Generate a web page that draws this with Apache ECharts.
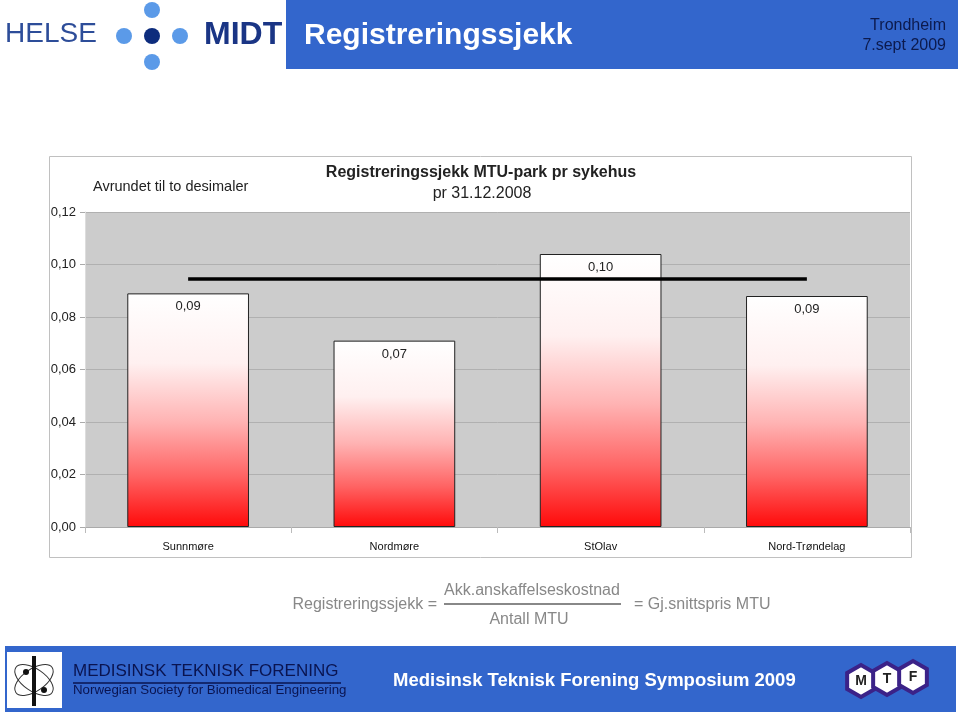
<!DOCTYPE html>
<html>
<head>
<meta charset="utf-8">
<script src="https://cdn.jsdelivr.net/npm/echarts@6/dist/echarts.min.js"></script>
<style>
html,body{margin:0;padding:0;background:#fff;}
#main{width:960px;height:716px;}
</style>
</head>
<body>
<div id="main"></div>
<script>
// ---- data ----
var categories = ['Sunnmøre', 'Nordmøre', 'StOlav', 'Nord-Trøndelag'];
var barValues = [0.089, 0.071, 0.104, 0.088];
var averageValues = [0.0945, 0.0945, 0.0945, 0.0945];
var yTicks = [0, 0.02, 0.04, 0.06, 0.08, 0.10, 0.12];

function fmt(v){ return v.toFixed(2).replace('.', ','); }

var chart = echarts.init(document.getElementById('main'), null, {renderer:'canvas'});
var F = 'Liberation Sans, Arial, sans-serif';
var blue = '#3366cc';

function hex(cx, cy, r){
  var pts=[];
  for(var i=0;i<6;i++){var a=Math.PI/6+i*Math.PI/3;pts.push([cx+r*Math.cos(a),cy+r*Math.sin(a)]);}
  return pts;
}

var graphics = [
  // chart frame
  {type:'rect', z:-10, shape:{x:49.5,y:156.5,width:862,height:401}, style:{fill:'#fff', stroke:'#c0c0c0', lineWidth:1}},
  // header logo
  {type:'text', left:5, top:20, style:{text:'HELSE', font:'28px '+F, fill:'#2d4d99'}},
  {type:'circle', shape:{cx:152,cy:10,r:8}, style:{fill:'#5b9ae8'}},
  {type:'circle', shape:{cx:124,cy:36,r:8}, style:{fill:'#5b9ae8'}},
  {type:'circle', shape:{cx:152,cy:36,r:8}, style:{fill:'#0d2c7d'}},
  {type:'circle', shape:{cx:180,cy:36,r:8}, style:{fill:'#5b9ae8'}},
  {type:'circle', shape:{cx:152,cy:62,r:8}, style:{fill:'#5b9ae8'}},
  {type:'text', left:204, top:19, style:{text:'MIDT', font:'bold 32px '+F, fill:'#1a3585'}},
  // header banner
  {type:'rect', shape:{x:286,y:0,width:672,height:69}, style:{fill:blue}},
  {type:'text', left:304, top:21, style:{text:'Registreringssjekk', font:'bold 30px '+F, fill:'#fff'}},
  {type:'text', right:14, top:18, style:{text:'Trondheim', font:'16px '+F, fill:'#0c1a4d', align:'right'}},
  {type:'text', right:14, top:38, style:{text:'7.sept 2009', font:'16px '+F, fill:'#0c1a4d', align:'right'}},
  // chart texts
  {type:'text', left:93, top:179, style:{text:'Avrundet til to desimaler', font:'14.5px '+F, fill:'#222'}},
  {type:'text', x:481, y:165, style:{text:'Registreringssjekk MTU-park pr sykehus', font:'bold 16px '+F, fill:'#222', align:'center'}},
  {type:'text', x:482, y:186, style:{text:'pr 31.12.2008', font:'16px '+F, fill:'#222', align:'center'}},
  // formula
  {type:'text', x:437, y:597, style:{text:'Registreringssjekk =', font:'16px '+F, fill:'#888', align:'right'}},
  {type:'text', x:532, y:583, style:{text:'Akk.anskaffelseskostnad', font:'16px '+F, fill:'#888', align:'center'}},
  {type:'line', shape:{x1:444,y1:604,x2:621,y2:604}, style:{stroke:'#888', lineWidth:2}},
  {type:'text', x:529, y:612, style:{text:'Antall MTU', font:'16px '+F, fill:'#888', align:'center'}},
  {type:'text', x:634, y:597, style:{text:'= Gj.snittspris MTU', font:'16px '+F, fill:'#888'}},
  // footer
  {type:'rect', shape:{x:5,y:646,width:951,height:66}, style:{fill:blue}},
  {type:'rect', shape:{x:7,y:652,width:55,height:56}, style:{fill:'#fff'}},
  {type:'ellipse', shape:{cx:34,cy:680,rx:22,ry:11}, rotation:0.6, originX:34, originY:680, style:{fill:'none', stroke:'#333', lineWidth:1}},
  {type:'ellipse', shape:{cx:34,cy:680,rx:22,ry:11}, rotation:-0.6, originX:34, originY:680, style:{fill:'none', stroke:'#333', lineWidth:1}},
  {type:'line', shape:{x1:34,y1:656,x2:34,y2:706}, style:{stroke:'#111', lineWidth:4}},
  {type:'circle', shape:{cx:44,cy:690,r:3}, style:{fill:'#111'}},
  {type:'circle', shape:{cx:26,cy:672,r:3}, style:{fill:'#111'}},
  {type:'text', left:73, top:663, style:{text:'MEDISINSK TEKNISK FORENING', font:'17px '+F, fill:'#0a1450'}},
  {type:'line', shape:{x1:73,y1:683,x2:341,y2:683}, style:{stroke:'#0a1450', lineWidth:1.5}},
  {type:'text', left:73, top:684, style:{text:'Norwegian Society for Biomedical Engineering', font:'13.3px '+F, fill:'#0a1450'}},
  {type:'text', left:393, top:671, style:{text:'Medisinsk Teknisk Forening Symposium 2009', font:'bold 18.5px '+F, fill:'#fff'}},
  {type:'polygon', shape:{points:hex(861,681,16)}, style:{fill:'#fff', stroke:'#3b2288', lineWidth:4}},
  {type:'polygon', shape:{points:hex(887,679,16)}, style:{fill:'#fff', stroke:'#3b2288', lineWidth:4}},
  {type:'polygon', shape:{points:hex(913,677,16)}, style:{fill:'#fff', stroke:'#3b2288', lineWidth:4}},
  {type:'text', x:861, y:674, style:{text:'M', font:'bold 14px '+F, fill:'#222', align:'center'}},
  {type:'text', x:887, y:672, style:{text:'T', font:'bold 14px '+F, fill:'#222', align:'center'}},
  {type:'text', x:913, y:670, style:{text:'F', font:'bold 14px '+F, fill:'#222', align:'center'}}
];

var option = {
  animation:false,
  backgroundColor:'#fff',
  graphic: graphics,
  grid:{left:85, right:50, top:212, bottom:189, show:true, backgroundColor:'#cccccc', borderWidth:0},
  xAxis:{
    type:'category', data:categories,
    axisLine:{show:true, lineStyle:{color:'#aaaaaa'}},
    axisTick:{show:true, length:6, lineStyle:{color:'#bbbbbb'}},
    axisLabel:{color:'#111', fontFamily:F, fontSize:11, margin:14}
  },
  yAxis:{
    type:'value', min:yTicks[0], max:yTicks[yTicks.length-1], interval:0.02,
    axisLine:{show:true, lineStyle:{color:'#dddddd'}},
    axisTick:{show:true, length:5, lineStyle:{color:'#aaaaaa'}},
    splitLine:{show:true, lineStyle:{color:'#b0b0b0'}},
    axisLabel:{color:'#222', fontFamily:F, fontSize:13, margin:9, formatter:function(v){return fmt(v);}}
  },
  series:[
    {
      type:'bar', data:barValues, barWidth:'59%',
      itemStyle:{
        borderColor:'#222', borderWidth:1,
        color:new echarts.graphic.LinearGradient(0,0,0,1,[
          {offset:0,color:'#ffffff'},
          {offset:0.3,color:'#fff0f0'},
          {offset:0.55,color:'#ffb3b3'},
          {offset:0.78,color:'#ff6464'},
          {offset:1,color:'#ff0a0a'}
        ])
      },
      label:{show:true, position:'insideTop', distance:7, color:'#222', fontFamily:F, fontSize:13, formatter:function(p){return fmt(p.value);}},
      z:2
    },
    {
      type:'line', data:averageValues, symbol:'none', showSymbol:false,
      lineStyle:{color:'#000', width:3.5}, z:5
    }
  ]
};
chart.setOption(option);
</script>
</body>
</html>
